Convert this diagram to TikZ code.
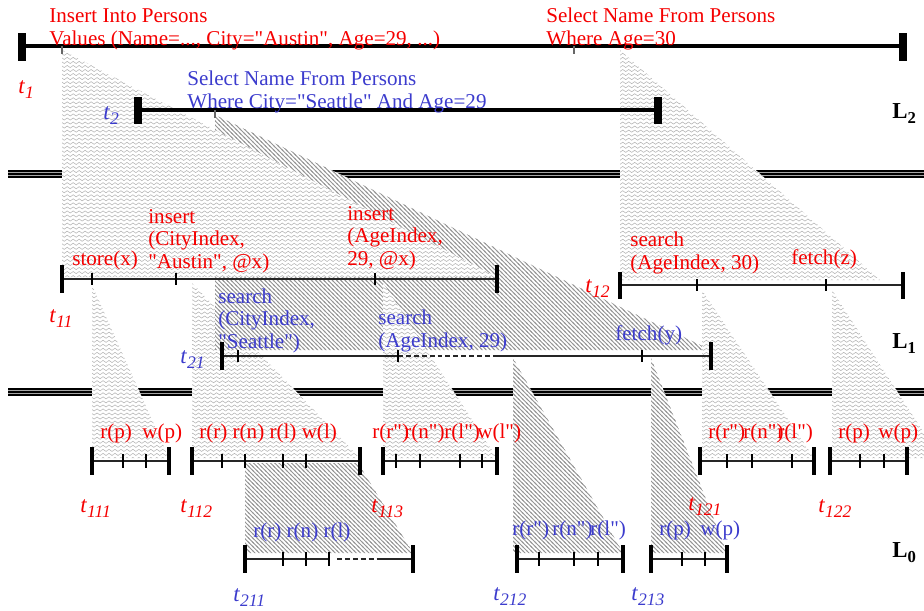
\documentclass[tikz,border=0pt]{standalone}
\usepackage{fontspec}
\setmainfont{Liberation Serif}[Ligatures=TeXOff]
\usetikzlibrary{patterns}
\definecolor{tred}{RGB}{245,0,0}
\definecolor{tblue}{RGB}{60,60,205}
\pgfdeclarepatternformonly{wavy}{\pgfqpoint{-0.5pt}{-0.5pt}}{\pgfqpoint{3.9pt}{2.8pt}}{\pgfqpoint{3.4pt}{2.3pt}}{
  \pgfsetlinewidth{0.3pt}
  \pgfpathmoveto{\pgfqpoint{0pt}{1.15pt}}
  \pgfpathcurveto{\pgfqpoint{0.57pt}{1.95pt}}{\pgfqpoint{1.13pt}{1.95pt}}{\pgfqpoint{1.7pt}{1.15pt}}
  \pgfpathcurveto{\pgfqpoint{2.27pt}{0.35pt}}{\pgfqpoint{2.83pt}{0.35pt}}{\pgfqpoint{3.4pt}{1.15pt}}
  \pgfusepath{stroke}
}
\pgfdeclarepatternformonly{hatch}{\pgfqpoint{-0.5pt}{-0.5pt}}{\pgfqpoint{2.9pt}{2.9pt}}{\pgfqpoint{2.4pt}{2.4pt}}{
  \pgfsetlinewidth{0.5pt}
  \pgfpathmoveto{\pgfqpoint{-0.5pt}{2.9pt}}
  \pgfpathlineto{\pgfqpoint{2.9pt}{-0.5pt}}
  \pgfusepath{stroke}
}
\tikzset{
  lbl/.style     ={inner sep=0pt, anchor=base west, align=left, font=\fontsize{12}{12.75}\selectfont},
  rlbl/.style    ={lbl, text=tred},
  blbl/.style    ={lbl, text=tblue},
  tlbl/.style    ={inner sep=0pt, anchor=base west, font=\fontsize{13}{13}\selectfont},
  lvl/.style     ={inner sep=0pt, anchor=base west, font=\fontsize{13}{13}\selectfont\bfseries},
  bigline/.style ={line width=2.3pt},
  bigbar/.style  ={line width=4pt},
  txline/.style  ={line width=0.7pt, black!85},
  txbar/.style   ={line width=2pt},
  tickmk/.style  ={line width=0.6pt},
  gaps/.style    ={txline, dash pattern=on 2.8pt off 1.7pt},
  wavyarea/.style={fill=white, postaction={pattern=wavy, pattern color=black!30}},
  hatcharea/.style={fill=white, postaction={pattern=hatch, pattern color=black!42}},
}
\newcommand{\tsub}[1]{\textit{t}\raisebox{-3pt}{\fontsize{10}{10}\selectfont\textit{#1}}}
\newcommand{\lsub}[1]{L\raisebox{-3pt}{\fontsize{9.5}{9.5}\selectfont #1}}

\begin{document}
\begin{tikzpicture}[x=0.02cm, y=-0.02cm]
  \useasboundingbox (0,0) rectangle (924,610);

  % level separators
  \foreach \y in {171,389} {
    \fill[black!35] (8,\y) rectangle (924,\y+6);
    \foreach \d in {0,3,6} \draw[line width=0.6pt] (8,\y+\d) -- (924,\y+\d);
  }

  % shaded areas
  \path[wavyarea]  (192,283) -- (192,458) -- (360,458) -- cycle;
  \path[hatcharea] (215,115) -- (215,350) -- (711,350) -- cycle;
  \path[wavyarea]  (62,50) -- (62,277) -- (497,277) -- cycle;
  \path[wavyarea]  (620,50) -- (620,280) -- (880,280) -- cycle;
  \path[wavyarea]  (92,285) -- (92,458) -- (169,458) -- cycle;
  \path[wavyarea]  (383,283) -- (383,458) -- (497,458) -- cycle;
  \path[wavyarea]  (702,290) -- (702,458) -- (814,458) -- cycle;
  \path[wavyarea]  (832,290) -- (832,458) -- (924,458) -- (924,433) -- cycle;
  \path[hatcharea] (245,463) -- (245,553) -- (413,553) -- (358,463) -- cycle;
  \path[hatcharea] (513,358) -- (513,553) -- (623,553) -- cycle;
  \path[hatcharea] (651,358) -- (651,553) -- (727,553) -- cycle;

  % L2
  \draw[bigline] (22,46) -- (903,46);
  \foreach \x in {22,903} \draw[bigbar] (\x,33) -- (\x,61);
  \foreach \x in {62,574} \draw[tickmk, black!60] (\x,46) -- (\x,54);
  \draw[bigline] (138,110) -- (658,110);
  \foreach \x in {138,658} \draw[bigbar] (\x,97) -- (\x,124);
  \draw[tickmk, black!60] (215,110) -- (215,118);

  \node[rlbl] (ins) at (49,45) {Insert Into Persons\\Values (Name=..., City="Austin", Age=29, ...)};
  \node[rlbl] (selr) at (546,45) {Select Name From Persons\\Where Age=30};
  \node[blbl] (selb) at (187,108) {Select Name From Persons\\Where City="Seattle" And Age=29};
  \node[tlbl, text=tred] (t1) at (18,93) {\tsub{1}};
  \node[tlbl, text=tblue] (t2) at (103,119) {\tsub{2}};
  \node[lvl] (l2) at (892,118) {\lsub{2}};

  % L1
  \draw[txline] (62,279) -- (497,279);
  \foreach \x in {62,497} \draw[txbar] (\x,265) -- (\x,293);
  \foreach \x in {92,176,375} \draw[tickmk] (\x,273) -- (\x,285);
  \draw[txline] (620,285) -- (903,285);
  \foreach \x in {620,903} \draw[txbar] (\x,272) -- (\x,299);
  \foreach \x in {697,826} \draw[tickmk] (\x,279) -- (\x,291);
  \draw[txline] (222,356) -- (398,356);
  \draw[gaps] (398,356) -- (495,356);
  \draw[txline] (495,356) -- (711,356);
  \foreach \x in {222,711} \draw[txbar] (\x,342) -- (\x,370);
  \foreach \x in {238,398,642} \draw[tickmk] (\x,350) -- (\x,362);

  \node[rlbl] (store) at (72,265) {store(x)};
  \node[rlbl] (insc) at (148,268) {insert\\(CityIndex,\\"Austin", @x)};
  \node[rlbl] (insa) at (347,265) {insert\\(AgeIndex,\\29, @x)};
  \node[rlbl] (srch) at (630,269) {search\\(AgeIndex, 30)};
  \node[rlbl] (fz) at (791,264) {fetch(z)};
  \node[blbl] (srcc) at (218,348) {search\\(CityIndex,\\"Seattle")};
  \node[blbl] (srca) at (378,347) {search\\(AgeIndex, 29)};
  \node[blbl] (fy) at (615,340) {fetch(y)};
  \node[tlbl, text=tred] (t11) at (49,322) {\tsub{11}};
  \node[tlbl, text=tred] (t12) at (585,292) {\tsub{12}};
  \node[tlbl, text=tblue] (t21) at (180,363) {\tsub{21}};
  \node[lvl] (l1) at (892,348) {\lsub{1}};

  % L0
  \foreach \a/\b in {92/169,192/360,383/497,700/814,830/907} {
    \draw[txline] (\a,461) -- (\b,461);
    \draw[txbar] (\a,447) -- (\a,475);
    \draw[txbar] (\b,447) -- (\b,475);
  }
  \foreach \x in {123,146,222,245,283,306,396,420,460,482,727,752,792,860,884}
    \draw[tickmk] (\x,454) -- (\x,468);
  \draw[txline] (245,559) -- (329,559);
  \draw[gaps] (337,559) -- (380,559);
  \draw[txline] (380,559) -- (413,559);
  \draw[txline] (517,559) -- (623,559);
  \draw[txline] (651,559) -- (727,559);
  \foreach \x in {245,413,517,623,651,727} \draw[txbar] (\x,545) -- (\x,573);
  \foreach \x in {283,306,329,539,574,598,682,705} \draw[tickmk] (\x,552) -- (\x,566);

  \node[rlbl] (rp1) at (100,438) {r(p)};
  \node[rlbl] (wp1) at (142,438) {w(p)};
  \node[rlbl] (ops2) at (199,438) {r(r) r(n) r(l) w(l)};
  \node[rlbl] (rr3) at (372,438) {r(r")};
  \node[rlbl] (rn3) at (404,438) {r(n")};
  \node[rlbl] (rl3) at (444,438) {r(l")};
  \node[rlbl] (wl3) at (477,438) {w(l")};
  \node[rlbl] (rr4) at (708,438) {r(r")};
  \node[rlbl] (rn4) at (743,438) {r(n")};
  \node[rlbl] (rl4) at (777,438) {r(l")};
  \node[rlbl] (rp5) at (838,438) {r(p)};
  \node[rlbl] (wp5) at (878,438) {w(p)};
  \node[blbl] (ops6) at (253,537) {r(r) r(n) r(l)};
  \node[blbl] (rr7) at (512,535) {r(r")};
  \node[blbl] (rn7) at (552,535) {r(n")};
  \node[blbl] (rl7) at (590,535) {r(l")};
  \node[blbl] (rp8) at (659,535) {r(p)};
  \node[blbl] (wp8) at (700,535) {w(p)};

  \node[tlbl, text=tred] (t111) at (80,512) {\tsub{111}};
  \node[tlbl, text=tred] (t112) at (180,512) {\tsub{112}};
  \node[tlbl, text=tred] (t113) at (371,512) {\tsub{113}};
  \node[tlbl, text=tred] (t121) at (688,510) {\tsub{121}};
  \node[tlbl, text=tred] (t122) at (818,512) {\tsub{122}};
  \node[tlbl, text=tblue] (t211) at (233,601) {\tsub{211}};
  \node[tlbl, text=tblue] (t212) at (493,600) {\tsub{212}};
  \node[tlbl, text=tblue] (t213) at (631,600) {\tsub{213}};
  \node[lvl] (l0) at (892,557) {\lsub{0}};
\end{tikzpicture}
\end{document}
